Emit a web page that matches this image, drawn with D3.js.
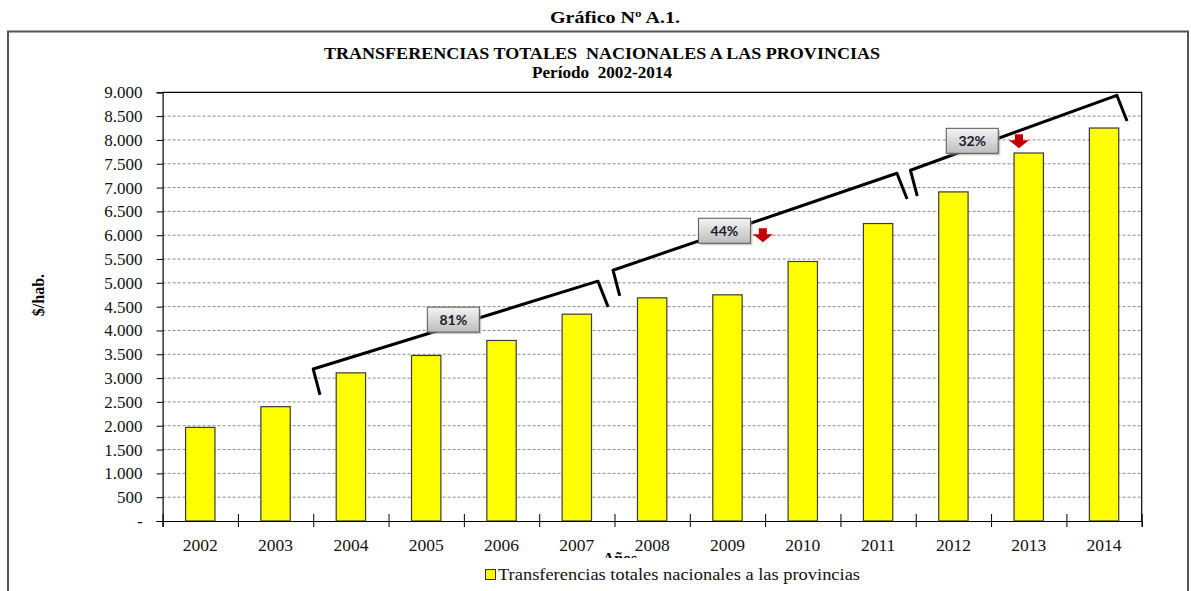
<!DOCTYPE html>
<html><head><meta charset="utf-8">
<script src="https://cdn.jsdelivr.net/npm/d3@7"></script>
<style>body{margin:0;background:#fff}svg{display:block}text{white-space:pre}</style>
</head><body>
<svg id="c" width="1191" height="591"></svg>
<script>
// ---- data ----
const years = ["2002","2003","2004","2005","2006","2007","2008","2009","2010","2011","2012","2013","2014"];
const values = [1965, 2400, 3110, 3475, 3790, 4342, 4685, 4748, 5448, 6245, 6909, 7726, 8250];
const yTicks = [0,500,1000,1500,2000,2500,3000,3500,4000,4500,5000,5500,6000,6500,7000,7500,8000,8500,9000];
// annotation brackets: band-unit start/end, value at start/end
const brackets = [
  {x0: 2.0, x1: 5.78, v0: 3190, v1: 5035},
  {x0: 5.98, x1: 9.75, v0: 5265, v1: 7300},
  {x0: 9.93, x1: 12.67, v0: 7363, v1: 8937}
];
const pctLabels = [
  {x: 3.86, v: 4217, t: "81%"},
  {x: 7.46, v: 6083, t: "44%"},
  {x: 10.75, v: 7971, t: "32%"}
];
const arrows = [
  {x: 7.97, v: 6146},
  {x: 11.37, v: 8118}
];
const titleLines = ["TRANSFERENCIAS TOTALES  NACIONALES A LAS PROVINCIAS", "Período  2002-2014"];
const topTitle = "Gráfico Nº A.1.";
const yTitle = "$/hab.";
const xTitle = "Años";
const legendLabel = "Transferencias totales nacionales a las provincias";

// ---- layout ----
const svg = d3.select("#c");
const L = 162.6, R = 1141.7, T = 92.3, B = 521;
const serif = "'Liberation Serif','Times New Roman',serif";

const x = d3.scaleBand().domain(years).range([L, R]).paddingInner(0.61).paddingOuter(0.305);
const xu = d3.scaleLinear().domain([0, years.length]).range([L, R]);
const y = d3.scaleLinear().domain([0, 9000]).range([B, T]);

// outer frame
svg.append("path").attr("d", `M8,592 V31.5 H1188 V592`).attr("fill","none").attr("stroke","#555").attr("stroke-width",2);

svg.append("text").attr("x", 615).attr("y", 23).attr("text-anchor","middle")
  .attr("font-family", serif).attr("font-weight","bold").attr("font-size", 16.5)
  .attr("textLength", 130).attr("lengthAdjust","spacingAndGlyphs").text(topTitle);
const titleW = [556, 140];
titleLines.forEach((t,i)=>{
  svg.append("text").attr("x", 602).attr("y", 58.5 + i*19).attr("text-anchor","middle")
    .attr("font-family", serif).attr("font-weight","bold").attr("font-size", 16.5)
    .attr("textLength", titleW[i]).attr("lengthAdjust","spacingAndGlyphs").text(t);
});

// gridlines
svg.append("g").selectAll("line").data(yTicks.filter(d=>d>0 && d<9000)).join("line")
  .attr("x1", L).attr("x2", R).attr("y1", d=>y(d)).attr("y2", d=>y(d))
  .attr("stroke","#8a8a8a").attr("stroke-width",1).attr("stroke-dasharray","3,2");

// plot border top/right
svg.append("path").attr("d", `M${L},${y(9000)} H${R} V${B}`).attr("fill","none").attr("stroke","#000").attr("stroke-width",1.2);

// bars
svg.append("g").selectAll("rect").data(values).join("rect")
  .attr("x", (d,i)=>x(years[i])).attr("width", x.bandwidth())
  .attr("y", d=>y(d)).attr("height", d=>B - y(d))
  .attr("fill","#FFFF00").attr("stroke","#3a3a3a").attr("stroke-width",1.2);

// y axis
const yAxis = d3.axisLeft(y).tickValues(yTicks).tickSize(6).tickPadding(14)
  .tickFormat(d => d===0 ? "-" : d3.format(",")(d).replace(",", "."));
const ga = svg.append("g").attr("transform", `translate(${L},0)`).call(yAxis);
ga.select(".domain").attr("stroke","#000").attr("stroke-width",1.2);
ga.selectAll(".tick line").attr("stroke","#000");
ga.selectAll("text").attr("font-family", serif).attr("font-size", 17).attr("fill","#111");

// x axis
const xAxis = d3.axisBottom(xu).tickValues(d3.range(0, years.length+1)).tickSize(6).tickFormat("");
const gx = svg.append("g").attr("transform", `translate(0,${B})`).call(xAxis);
gx.select(".domain").attr("stroke","#000").attr("stroke-width",1.2);
gx.selectAll(".tick line").attr("stroke","#000").attr("y1", -7);
svg.append("g").selectAll("text").data(years).join("text")
  .attr("x", d=>x(d)+x.bandwidth()/2).attr("y", 551).attr("text-anchor","middle")
  .attr("font-family", serif).attr("font-size", 17.5).attr("fill","#111").text(d=>d);

// axis titles
svg.append("text").attr("transform", `translate(44,${295}) rotate(-90)`).attr("text-anchor","middle")
  .attr("font-family", serif).attr("font-weight","bold").attr("font-size", 16).text(yTitle);
svg.append("text").attr("x", 620).attr("y", 564).attr("text-anchor","middle")
  .attr("font-family", serif).attr("font-weight","bold").attr("font-size", 16).text(xTitle);

// legend (box covers bottom of x title)
svg.append("rect").attr("x", 478).attr("y", 558).attr("width", 392).attr("height", 30).attr("fill","#fff");
svg.append("rect").attr("x", 485.5).attr("y", 569.5).attr("width", 10).attr("height", 10)
  .attr("fill","#FFFF00").attr("stroke","#333");
svg.append("text").attr("x", 498).attr("y", 580).attr("font-family", serif).attr("font-size", 16.5)
  .attr("textLength", 362).attr("lengthAdjust","spacingAndGlyphs").attr("fill","#111").text(legendLabel);

// brackets
const hookDx = 0.09, hookDv = 540;
const line = d3.line().x(d=>xu(d[0])).y(d=>y(d[1]));
svg.append("g").selectAll("path").data(brackets).join("path")
  .attr("d", b => line([[b.x0+hookDx, b.v0-hookDv], [b.x0, b.v0], [b.x1, b.v1], [b.x1+hookDx*1.5, b.v1-hookDv]]))
  .attr("fill","none").attr("stroke","#000").attr("stroke-width",3).attr("stroke-linejoin","round").attr("stroke-linecap","butt");

// percentage labels
const defs = svg.append("defs");
const gr = defs.append("linearGradient").attr("id","gbox").attr("x1",0).attr("y1",0).attr("x2",0).attr("y2",1);
gr.append("stop").attr("offset","0%").attr("stop-color","#f4f4f4");
gr.append("stop").attr("offset","100%").attr("stop-color","#bdbdbd");
const pl = svg.append("g").selectAll("g").data(pctLabels).join("g")
  .attr("transform", d=>`translate(${xu(d.x)},${y(d.v)})`);
pl.append("rect").attr("x",-24).attr("y",-11).attr("width",52).attr("height",25).attr("fill","#999").attr("opacity",0.5);
pl.append("rect").attr("x",-26).attr("y",-13).attr("width",52).attr("height",25)
  .attr("fill","url(#gbox)").attr("stroke","#555").attr("stroke-width",1);
pl.append("text").attr("x",0).attr("y",5).attr("text-anchor","middle")
  .attr("font-family","Lato,'Liberation Sans',sans-serif").attr("font-weight","bold").attr("font-size",14)
  .attr("fill","#1a1a2a").text(d=>d.t);

// red arrows
svg.append("g").selectAll("path").data(arrows).join("path")
  .attr("transform", d=>`translate(${xu(d.x)},${y(d.v)})`)
  .attr("d","M-4,0 H4 V6 H10 L0,14 L-10,6 H-4 Z")
  .attr("fill","#C00000");
</script>
</body></html>
